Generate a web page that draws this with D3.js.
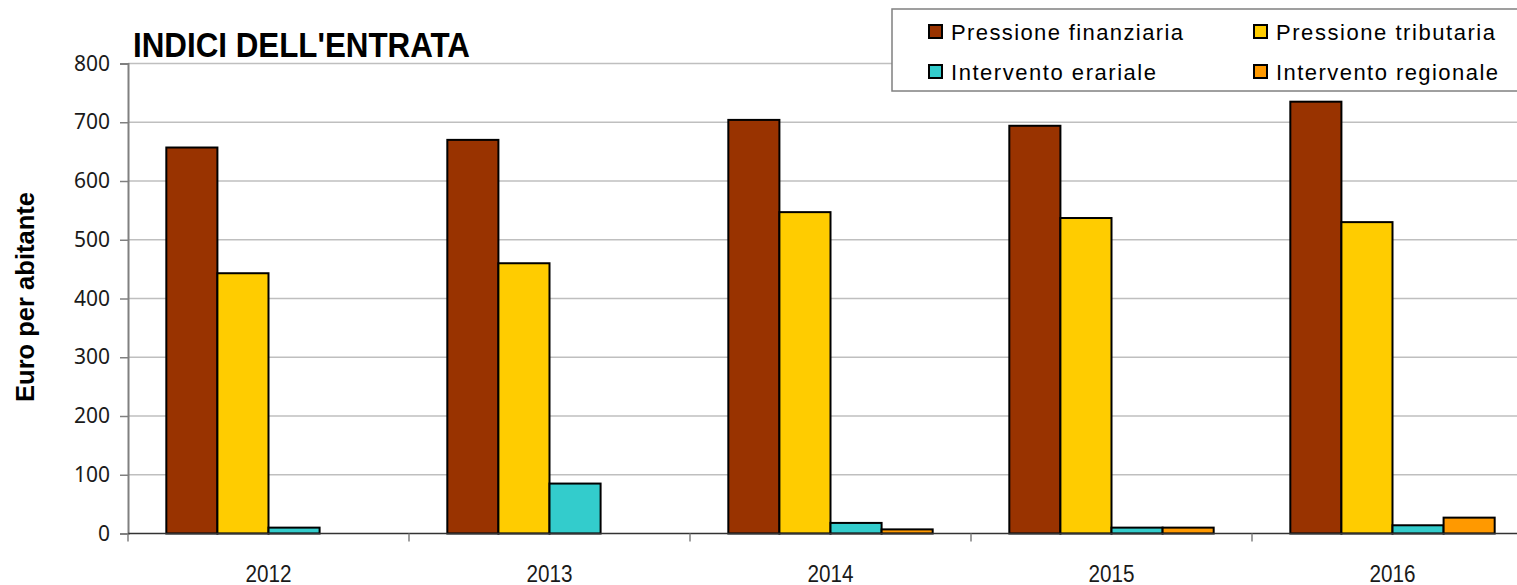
<!DOCTYPE html>
<html>
<head>
<meta charset="utf-8">
<script src="https://cdn.jsdelivr.net/npm/d3@7"></script>
<style>
  html, body { margin: 0; padding: 0; background: #fff; }
  svg { display: block; }
</style>
</head>
<body>
<svg id="chart" width="1517" height="585"></svg>
<script>
// Categories, series and values (euro per abitante)
const years = ["2012", "2013", "2014", "2015", "2016"];
const seriesNames = ["Pressione finanziaria", "Pressione tributaria", "Intervento erariale", "Intervento regionale"];
const seriesColors = ["#993300", "#FFCC00", "#33CCCC", "#FF9900"];
const pressioneFinanziaria = [657, 670, 704, 694, 735];
const pressioneTributaria = [443, 460, 547, 537, 530];
const interventoErariale = [10, 85, 18, 10, 14];
const interventoRegionale = [null, null, 7, 10, 27];
const yTicks = [0, 100, 200, 300, 400, 500, 600, 700, 800];

const seriesValues = [pressioneFinanziaria, pressioneTributaria, interventoErariale, interventoRegionale];

const svg = d3.select("#chart");
const narrow = "'Liberation Sans Narrow', 'Arial Narrow', 'Liberation Sans', Arial, sans-serif";

const plot = { left: 128, right: 1533, top: 63.5, bottom: 533.5 };

const x0 = d3.scaleBand().domain(years).range([plot.left, plot.right]).paddingInner(0).paddingOuter(0);
const x1 = d3.scaleBand().domain(seriesNames).range([0, x0.bandwidth()]).paddingInner(0).paddingOuter(0.75);
const y = d3.scaleLinear().domain([0, 800]).range([plot.bottom, plot.top]);
const color = d3.scaleOrdinal().domain(seriesNames).range(seriesColors);

// Horizontal gridlines
svg.append("g")
  .selectAll("line")
  .data(yTicks.filter(t => t > 0))
  .join("line")
  .attr("x1", plot.left).attr("x2", plot.right)
  .attr("y1", d => y(d)).attr("y2", d => y(d))
  .attr("stroke", "#bfbfbf").attr("stroke-width", 1.5);

// Left axis
const yAxis = svg.append("g")
  .attr("transform", `translate(${plot.left},0)`)
  .call(d3.axisLeft(y).tickValues(yTicks).tickSize(8).tickPadding(10));
yAxis.select(".domain").attr("stroke", "#808080").attr("stroke-width", 2);
yAxis.selectAll(".tick line").attr("stroke", "#808080").attr("stroke-width", 1.5);
yAxis.selectAll(".tick text")
  .attr("font-family", "'Noto Sans', 'Open Sans', sans-serif")
  .attr("font-size", 21)
  .attr("fill", "#1a1a1a");

// Bars
const groups = svg.append("g")
  .selectAll("g")
  .data(years)
  .join("g")
  .attr("transform", d => `translate(${x0(d)},0)`);

groups.selectAll("rect")
  .data((yr, i) => seriesNames.map((s, k) => ({ series: s, value: seriesValues[k][i] }))
    .filter(d => d.value !== null))
  .join("rect")
  .attr("x", d => x1(d.series))
  .attr("width", x1.bandwidth())
  .attr("y", d => y(d.value))
  .attr("height", d => y(0) - y(d.value))
  .attr("fill", d => color(d.series))
  .attr("stroke", "#000")
  .attr("stroke-width", 2);

// Bottom axis
const xAxis = svg.append("g")
  .attr("transform", `translate(0,${plot.bottom})`);
xAxis.append("line")
  .attr("x1", plot.left).attr("x2", plot.right)
  .attr("y1", 0).attr("y2", 0)
  .attr("stroke", "#333").attr("stroke-width", 1.5);
xAxis.selectAll("line.tick")
  .data(years.map(d => x0(d)).concat([plot.right]))
  .join("line")
  .attr("class", "tick")
  .attr("x1", d => d).attr("x2", d => d)
  .attr("y1", 0).attr("y2", 8)
  .attr("stroke", "#808080").attr("stroke-width", 1.5);
xAxis.selectAll("text")
  .data(years)
  .join("text")
  .attr("x", d => x0(d) + x0.bandwidth() / 2)
  .attr("y", 48)
  .attr("text-anchor", "middle")
  .attr("font-family", narrow)
  .attr("font-size", 23)
  .attr("textLength", 46)
  .attr("lengthAdjust", "spacingAndGlyphs")
  .attr("fill", "#1a1a1a")
  .text(d => d);

// Y axis title
svg.append("text")
  .attr("transform", "translate(34,297) rotate(-90)")
  .attr("text-anchor", "middle")
  .attr("font-family", narrow)
  .attr("font-weight", "bold")
  .attr("font-size", 26)
  .attr("textLength", 210)
  .attr("lengthAdjust", "spacingAndGlyphs")
  .attr("fill", "#000")
  .text("Euro per abitante");

// Chart title
svg.append("text")
  .attr("x", 133)
  .attr("y", 57)
  .attr("font-family", narrow)
  .attr("font-weight", "bold")
  .attr("font-size", 35)
  .attr("textLength", 337)
  .attr("lengthAdjust", "spacingAndGlyphs")
  .attr("fill", "#000")
  .text("INDICI DELL'ENTRATA");

// Legend
const legend = svg.append("g");
legend.append("rect")
  .attr("x", 892).attr("y", 9)
  .attr("width", 640).attr("height", 82)
  .attr("fill", "#fff")
  .attr("stroke", "#808080").attr("stroke-width", 1.5);

const legendPos = [
  { x: 929, y: 25, tw: 232 },
  { x: 1254, y: 25, tw: 219 },
  { x: 929, y: 65, tw: 205 },
  { x: 1254, y: 65, tw: 222 }
];
const items = legend.selectAll("g.item")
  .data(seriesNames)
  .join("g")
  .attr("class", "item")
  .attr("transform", (d, i) => `translate(${legendPos[i].x},${legendPos[i].y})`);
items.append("rect")
  .attr("width", 13).attr("height", 13)
  .attr("fill", d => color(d))
  .attr("stroke", "#000").attr("stroke-width", 2);
items.append("text")
  .attr("x", 22)
  .attr("y", 15)
  .attr("font-family", narrow)
  .attr("font-size", 22)
  .attr("textLength", (d, i) => legendPos[i].tw)
  .attr("lengthAdjust", "spacing")
  .attr("fill", "#000")
  .text(d => d);
</script>
</body>
</html>
